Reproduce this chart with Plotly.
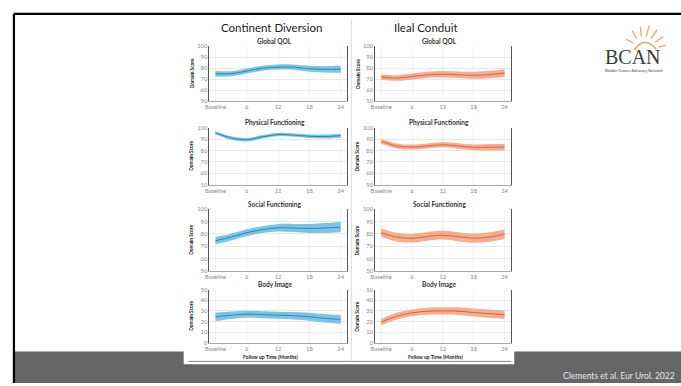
import plotly.graph_objects as go

W, H = 681, 386

months = [0, 3, 6, 9, 12, 15, 18, 21, 24]
x_tickvals = [0, 6, 12, 18, 24]
x_ticktext = ["Baseline", "6", "12", "18", "24"]

column_titles = ["Continent Diversion", "Ileal Conduit"]
panel_titles = ["Global QOL", "Physical Functioning", "Social Functioning", "Body Image"]

# Continent Diversion (blue)
cd_global_mean = [75, 75, 77.5, 80, 81, 81, 79.5, 79, 79]
cd_global_low = [72.5, 72.8, 75.2, 77.8, 78.8, 78.6, 76.8, 76.2, 75.8]
cd_global_up = [77.5, 77.3, 79.8, 82.3, 83.3, 83.4, 82.2, 81.8, 82.4]

cd_phys_mean = [95.5, 91, 89.5, 92, 94, 93.5, 92.5, 92.3, 93]
cd_phys_low = [94, 89.5, 88, 90.5, 92.6, 92, 91, 90.6, 91.3]
cd_phys_up = [97, 92.5, 91, 93.5, 95.4, 95, 94, 94, 94.7]

cd_social_mean = [74.5, 77.5, 81, 83.5, 85, 84.8, 84.4, 84.8, 85.5]
cd_social_low = [71.5, 74.8, 78.2, 80.8, 82, 81.5, 80.8, 80.8, 81.3]
cd_social_up = [77.5, 80.2, 83.8, 86.2, 88, 88.1, 88, 88.8, 89.7]

cd_body_mean = [24.5, 26, 27, 26.5, 26, 25.5, 24.5, 23, 22]
cd_body_low = [20.5, 22.5, 23.8, 23.2, 22.7, 22, 20.8, 19, 17.8]
cd_body_up = [28.5, 29.5, 30.2, 29.8, 29.3, 29, 28.2, 27, 26.2]

# Ileal Conduit (orange)
ic_global_mean = [72, 71, 72.5, 74, 74.5, 74, 73.5, 74.2, 75.5]
ic_global_low = [69.5, 68.5, 69.8, 71.2, 71.5, 71, 70.2, 70.8, 72]
ic_global_up = [74.5, 73.5, 75.2, 76.8, 77.5, 77, 76.8, 77.6, 79]

ic_phys_mean = [88, 84, 83, 84, 85, 84, 82.8, 82.8, 83]
ic_phys_low = [86, 81.8, 80.8, 81.8, 82.8, 81.6, 80.3, 80, 80]
ic_phys_up = [90, 86.2, 85.2, 86.2, 87.2, 86.4, 85.3, 85.6, 86]

ic_social_mean = [81, 77.5, 76.5, 78, 79, 77.8, 76.5, 77.5, 79.8]
ic_social_low = [77.5, 74, 73, 74.5, 75.5, 74.2, 72.8, 73.7, 76]
ic_social_up = [84.5, 81, 80, 81.5, 82.5, 81.4, 80.2, 81.3, 83.6]

ic_body_mean = [19.5, 25, 28.2, 29.7, 30, 29.8, 28.5, 27.5, 26.5]
ic_body_low = [16.5, 21.8, 25, 26.4, 26.6, 26.2, 24.8, 23.6, 22.5]
ic_body_up = [22.5, 28.2, 31.4, 33, 33.4, 33.4, 32.2, 31.4, 30.5]

y_ranges = [[50, 100], [50, 100], [50, 100], [0, 50]]

panels = [
    [(cd_global_mean, cd_global_low, cd_global_up), (ic_global_mean, ic_global_low, ic_global_up)],
    [(cd_phys_mean, cd_phys_low, cd_phys_up), (ic_phys_mean, ic_phys_low, ic_phys_up)],
    [(cd_social_mean, cd_social_low, cd_social_up), (ic_social_mean, ic_social_low, ic_social_up)],
    [(cd_body_mean, cd_body_low, cd_body_up), (ic_body_mean, ic_body_low, ic_body_up)],
]

colors = [("#2b88bb", "rgba(100,186,224,0.85)"), ("#e0603c", "rgba(245,160,125,0.85)")]

# layout in pixels
col_px = [(206, 345), (373, 510)]
row_px = [(43, 99), (126, 184), (209, 272), (291, 345)]

def px(x):
    return x / W

def py(y):
    return 1 - y / H

fig = go.Figure()
layout = {}
annotations = []
shapes = []

FONT = "Lato"
idx = 0
for r in range(4):
    for c in range(2):
        idx += 1
        xa = "x" if idx == 1 else f"x{idx}"
        ya = "y" if idx == 1 else f"y{idx}"
        mean, low, up = panels[r][c]
        lc, fc = colors[c]
        fig.add_trace(go.Scatter(x=months, y=low, xaxis=xa, yaxis=ya, mode="lines",
                                 line=dict(width=0, shape="spline", color=fc),
                                 showlegend=False, hoverinfo="skip"))
        fig.add_trace(go.Scatter(x=months, y=up, xaxis=xa, yaxis=ya, mode="lines",
                                 line=dict(width=0, shape="spline", color=fc),
                                 fill="tonexty", fillcolor=fc,
                                 showlegend=False, hoverinfo="skip"))
        fig.add_trace(go.Scatter(x=months, y=mean, xaxis=xa, yaxis=ya, mode="lines",
                                 line=dict(width=1, shape="spline", color=lc),
                                 showlegend=False))
        x0, x1 = col_px[c]
        y0, y1 = row_px[r]
        layout["xaxis" if idx == 1 else f"xaxis{idx}"] = dict(
            domain=[px(x0), px(x1)], anchor=ya, range=[-1.15, 25.3],
            tickvals=x_tickvals, ticktext=x_ticktext,
            tickfont=dict(size=5.8, color="#888", family=FONT),
            showline=True, linecolor="#aaaaaa", linewidth=1,
            showgrid=True, gridcolor="#f2f2f2", gridwidth=1,
            zeroline=False, ticks="", fixedrange=True)
        layout["yaxis" if idx == 1 else f"yaxis{idx}"] = dict(
            domain=[py(y1), py(y0)], anchor=xa, range=y_ranges[r], dtick=10,
            tickfont=dict(size=5.8, color="#888", family=FONT),
            showline=True, linecolor="#555555", linewidth=1, mirror=True,
            showgrid=True, gridcolor="#e8e8e8", gridwidth=1,
            zeroline=False, ticks="", fixedrange=True)
        # panel title
        annotations.append(dict(x=px((x0 + x1) / 2 - 4), y=py(y0 - 5), xref="paper", yref="paper",
                                text="<b>" + panel_titles[r] + "</b>", showarrow=False,
                                font=dict(size=6.5, color="#333", family=FONT),
                                xanchor="center", yanchor="middle"))
        # y title
        annotations.append(dict(x=px(x0 - 18), y=py((y0 + y1) / 2), xref="paper", yref="paper",
                                text="<b>Domain Score</b>", textangle=-90, showarrow=False,
                                font=dict(size=4.8, color="#222", family=FONT),
                                xanchor="center", yanchor="middle"))
        if r == 3:
            annotations.append(dict(x=px((x0 + x1) / 2 - 8), y=py(360), xref="paper", yref="paper",
                                    text="<b>Follow up Time (Months)</b>", showarrow=False,
                                    font=dict(size=5, color="#222", family=FONT),
                                    xanchor="center", yanchor="middle"))

# column titles
annotations.append(dict(x=px(268), y=py(24), xref="paper", yref="paper", text=column_titles[0],
                        showarrow=False, font=dict(size=11.5, color="#222", family=FONT),
                        xanchor="center", yanchor="middle"))
annotations.append(dict(x=px(424), y=py(24), xref="paper", yref="paper", text=column_titles[1],
                        showarrow=False, font=dict(size=11.5, color="#222", family=FONT),
                        xanchor="center", yanchor="middle"))

# logo text
annotations.append(dict(x=px(633), y=py(54), xref="paper", yref="paper", text="BCAN",
                        showarrow=False, font=dict(size=20, color="#3a3a3a", family="Liberation Serif"),
                        xanchor="center", yanchor="middle"))
annotations.append(dict(x=px(634), y=py(67.5), xref="paper", yref="paper",
                        text="Bladder Cancer Advocacy Network",
                        showarrow=False, font=dict(size=3.8, color="#444", family=FONT),
                        xanchor="center", yanchor="middle"))
# citation
annotations.append(dict(x=px(677), y=py(379), xref="paper", yref="paper",
                        text="Clements et al. Eur Urol. 2022",
                        showarrow=False, font=dict(size=8.5, color="#e6e6e6", family=FONT),
                        xanchor="right", yanchor="middle"))

def rect(x0, y0, x1, y1, color, line=None):
    return dict(type="rect", xref="paper", yref="paper", x0=px(x0), x1=px(x1), y0=py(y1), y1=py(y0),
                fillcolor=color, line=dict(width=0) if line is None else line, layer="below")

def seg(x0, y0, x1, y1, color, width):
    return dict(type="line", xref="paper", yref="paper", x0=px(x0), x1=px(x1), y0=py(y0), y1=py(y1),
                line=dict(color=color, width=width), layer="below")

shapes.append(rect(10, 354, W, H, "#666666"))
shapes.append(rect(180, 11, 513, 367, "#ffffff"))
shapes.append(seg(185, 364, 510, 364, "#888888", 1))
shapes.append(seg(9, 10, W, 10, "#000000", 2.2))
shapes.append(seg(9, 10, 9, H, "#000000", 2.2))
shapes.append(seg(349, 16, 349, 364, "#dddddd", 1))

# sun logo
sun = "#f0a468"
shapes.append(dict(type="path", xref="paper", yref="paper",
                   path=f"M {px(634)},{py(47)} Q {px(644)},{py(32)} {px(656)},{py(46)}",
                   line=dict(color=sun, width=1.6), layer="below"))
rays = [((633, 40), (626, 36)), ((636, 35), (632, 27)), ((641, 33), (640, 23)),
        ((646, 33), (649, 22)), ((651, 35), (657, 26)), ((655, 39), (663, 33)),
        ((658, 44), (666, 42))]
for (a, b) in rays:
    shapes.append(seg(a[0], a[1], b[0], b[1], sun, 1.3))

fig.update_layout(
    width=W, height=H, margin=dict(l=0, r=0, t=0, b=0),
    paper_bgcolor="#ffffff", plot_bgcolor="rgba(0,0,0,0)",
    annotations=annotations, shapes=shapes, showlegend=False,
    **layout)

fig.write_html("out.html", config={"displayModeBar": False},
               post_script="document.body.style.margin='0';document.body.style.padding='0';document.body.style.overflow='hidden';")
